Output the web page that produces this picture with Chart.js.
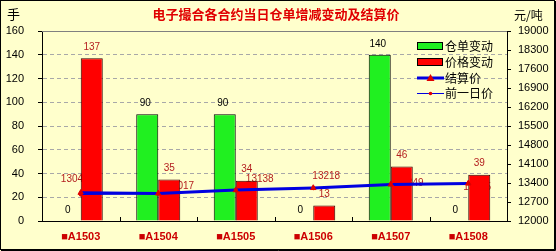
<!DOCTYPE html>
<html>
<head>
<meta charset="utf-8">
<script src="https://cdn.jsdelivr.net/npm/chart.js@4"></script>
<style>
  html, body { margin: 0; padding: 0; background: #FFFFCC; }
  #wrap { width: 556px; height: 251px; }
</style>
</head>
<body>
<div id="wrap"><canvas id="myChart" width="556" height="251"></canvas></div>
<script>
"use strict";

// chart data
const categories = ["■A1503", "■A1504", "■A1505", "■A1506", "■A1507", "■A1508"];
const warrantChange = [0, 90, 90, 0, 140, 0];
const priceChange = [137, 35, 34, 13, 46, 39];
const settlePrice = [13042, 13017, 13138, 13218, 13349, 13385];
const prevPrice = [12975, 13010, 13130, 13210, 13345, 13382];
const leftTicks = [0, 20, 40, 60, 80, 100, 120, 140, 160];
const rightTicks = [12000, 12700, 13400, 14100, 14800, 15500, 16200, 16900, 17600, 18300, 19000];

const numFont = "10px 'Liberation Sans', Arial, sans-serif";
const cjkFont = "'Noto Sans CJK SC', sans-serif";
const labelRed = "#B42020";

// settlement labels sit a bit off the point, like the original
const settleDx = [-6, 22, 24, 13, 19, 9];
const settleDy = [-13, -7, -11, -12, -1, 4];

// labels of the settlement line are drawn under the bars
const underLabels = {
	id: "underLabels",
	beforeDatasetsDraw(chart) {
		const ctx = chart.ctx;
		const meta = chart.getDatasetMeta(2);
		ctx.save();
		ctx.font = numFont;
		ctx.fillStyle = labelRed;
		ctx.textAlign = "center";
		ctx.textBaseline = "middle";
		meta.data.forEach(function (pt, i) {
			ctx.fillText(String(settlePrice[i]), pt.x + settleDx[i], pt.y + settleDy[i]);
		});
		ctx.restore();
	},
};

// frame, titles, bar labels, legend
const decorations = {
	id: "decorations",
	beforeDraw(chart) {
		const ctx = chart.ctx;
		ctx.save();
		ctx.fillStyle = "#FFFFCC";
		ctx.fillRect(0, 0, chart.width, chart.height);
		ctx.restore();
	},
	afterDatasetsDraw(chart) {
		const ctx = chart.ctx;
		ctx.save();
		ctx.font = numFont;
		ctx.textAlign = "center";
		ctx.textBaseline = "middle";
		chart.getDatasetMeta(0).data.forEach(function (bar, i) {
			ctx.fillStyle = "#000";
			ctx.fillText(String(warrantChange[i]), bar.x - 2, bar.y - 11);
		});
		chart.getDatasetMeta(1).data.forEach(function (bar, i) {
			ctx.fillStyle = labelRed;
			ctx.fillText(String(priceChange[i]), bar.x, bar.y - 11);
		});
		ctx.restore();
	},
	afterDraw(chart) {
		const ctx = chart.ctx;
		const a = chart.chartArea;
		ctx.save();

		// grey frame on top of the plot
		ctx.strokeStyle = "#808080";
		ctx.lineWidth = 1;
		ctx.beginPath();
		ctx.moveTo(a.left, a.top + 0.5);
		ctx.lineTo(a.right, a.top + 0.5);
		ctx.stroke();

		// small inside ticks between categories
		const xs = chart.scales.x;
		ctx.strokeStyle = "#000";
		for (let i = 1; i < categories.length; i++) {
			const x = Math.round((xs.getPixelForTick(i - 1) + xs.getPixelForTick(i)) / 2) + 0.5;
			ctx.beginPath();
			ctx.moveTo(x, a.bottom);
			ctx.lineTo(x, a.bottom - 4);
			ctx.stroke();
		}

		// title and axis units
		ctx.fillStyle = "#E00000";
		ctx.font = "bold 13px " + cjkFont;
		ctx.textAlign = "center";
		ctx.textBaseline = "middle";
		ctx.fillText("电子撮合各合约当日仓单增减变动及结算价", 276, 14);
		ctx.fillStyle = "#000";
		ctx.font = "13px " + cjkFont;
		ctx.textAlign = "left";
		ctx.fillText("手", 7, 14);
		ctx.font = "12px " + cjkFont;
		ctx.fillText("元/吨", 514, 15);

		// legend
		const lx = 417;
		const rows = [46, 62, 78, 93];
		ctx.fillStyle = "#20F020";
		ctx.fillRect(lx, rows[0] - 4, 25, 7);
		ctx.strokeRect(lx + 0.5, rows[0] - 3.5, 25, 7);
		ctx.fillStyle = "#FF0000";
		ctx.fillRect(lx, rows[1] - 4, 25, 7);
		ctx.strokeRect(lx + 0.5, rows[1] - 3.5, 25, 7);
		ctx.strokeStyle = "#0000E0";
		ctx.lineWidth = 3;
		ctx.beginPath();
		ctx.moveTo(lx, rows[2]);
		ctx.lineTo(lx + 27, rows[2]);
		ctx.stroke();
		ctx.fillStyle = "#E00000";
		ctx.beginPath();
		ctx.moveTo(lx + 13.5, rows[2] - 4);
		ctx.lineTo(lx + 17.5, rows[2] + 3);
		ctx.lineTo(lx + 9.5, rows[2] + 3);
		ctx.closePath();
		ctx.fill();
		ctx.lineWidth = 1;
		ctx.beginPath();
		ctx.moveTo(lx, rows[3] + 0.5);
		ctx.lineTo(lx + 27, rows[3] + 0.5);
		ctx.stroke();
		ctx.beginPath();
		ctx.arc(lx + 13.5, rows[3] + 0.5, 1.8, 0, Math.PI * 2);
		ctx.fill();
		ctx.fillStyle = "#000";
		ctx.font = "12px " + cjkFont;
		ctx.textAlign = "left";
		ctx.fillText("仓单变动", 445, rows[0]);
		ctx.fillText("价格变动", 445, rows[1]);
		ctx.fillText("结算价", 445, rows[2]);
		ctx.fillText("前一日价", 445, rows[3]);

		// outer border
		ctx.strokeStyle = "#000";
		ctx.lineWidth = 1;
		ctx.strokeRect(0.5, 0.5, chart.width - 2, chart.height - 2);
		ctx.beginPath();
		ctx.moveTo(chart.width - 0.5, 1);
		ctx.lineTo(chart.width - 0.5, chart.height - 0.5);
		ctx.lineTo(1, chart.height - 0.5);
		ctx.stroke();
		ctx.restore();
	},
};

function generateChart() {
	const ctx = document.getElementById("myChart");

	new Chart(ctx, {
		data: {
			labels: categories,
			datasets: [
				{
					type: "bar",
					label: "仓单变动",
					data: warrantChange,
					backgroundColor: "#20F020",
					borderColor: "#000",
					borderWidth: 1,
					yAxisID: "y",
					order: 2,
				},
				{
					type: "bar",
					label: "价格变动",
					data: priceChange,
					backgroundColor: "#FF0000",
					borderColor: "#300000",
					borderWidth: 1,
					yAxisID: "y",
					order: 2,
				},
				{
					type: "line",
					label: "结算价",
					data: settlePrice,
					borderColor: "#0000E0",
					borderWidth: 3,
					pointStyle: "triangle",
					pointRadius: 3.2,
					pointBorderWidth: 1,
					pointBackgroundColor: "#E00000",
					pointBorderColor: "#E00000",
					yAxisID: "y1",
					order: 1,
				},
				{
					type: "line",
					label: "前一日价",
					data: prevPrice,
					borderColor: "#0000E0",
					borderWidth: 1,
					pointRadius: 1.6,
					pointBackgroundColor: "#E00000",
					pointBorderColor: "#E00000",
					yAxisID: "y1",
					order: 0,
				},
			],
		},
		options: {
			responsive: false,
			animation: false,
			devicePixelRatio: 1,
			layout: { padding: { top: 31, left: 0, right: 0, bottom: 0 } },
			datasets: {
				bar: { categoryPercentage: 0.568, barPercentage: 1.0 },
			},
			plugins: {
				legend: { display: false },
				tooltip: { enabled: false },
			},
			scales: {
				x: {
					offset: true,
					grid: { display: false, drawTicks: false },
					border: { display: true, color: "#000" },
					ticks: {
						color: "#CC0000",
						font: { family: "'Liberation Sans', Arial, sans-serif", size: 11, weight: "bold" },
						padding: 9,
						maxRotation: 0,
					},
					afterFit(scale) {
						scale.height = 30;
					},
				},
				y: {
					position: "left",
					min: leftTicks[0],
					max: leftTicks[leftTicks.length - 1],
					afterBuildTicks(scale) {
						scale.ticks = leftTicks.map(function (v) {
							return { value: v };
						});
					},
					grid: {
						color: function (c) {
							return c.tick && (c.tick.value === 0 || c.tick.value === 160) ? "rgba(0,0,0,0)" : "#A8A8A8";
						},
						tickColor: "#000",
						tickLength: 4,
					},
					border: {
						display: true,
						color: "#000",
						dash: [4, 3],
					},
					ticks: {
						color: "#000",
						font: { family: "'Liberation Sans', Arial, sans-serif", size: 11 },
						padding: 14,
						callback: function (v) {
							return String(v);
						},
					},
					afterFit(scale) {
						scale.width = 42;
					},
				},
				y1: {
					position: "right",
					min: rightTicks[0],
					max: rightTicks[rightTicks.length - 1],
					afterBuildTicks(scale) {
						scale.ticks = rightTicks.map(function (v) {
							return { value: v };
						});
					},
					grid: {
						drawOnChartArea: false,
						tickColor: "#000",
						tickLength: 4,
					},
					border: { display: true, color: "#000" },
					ticks: {
						color: "#000",
						font: { family: "'Liberation Sans', Arial, sans-serif", size: 11 },
						padding: 7,
						callback: function (v) {
							return String(v);
						},
					},
					afterFit(scale) {
						scale.width = 49;
					},
				},
			},
		},
		plugins: [underLabels, decorations],
	});
}

generateChart();
</script>
</body>
</html>
